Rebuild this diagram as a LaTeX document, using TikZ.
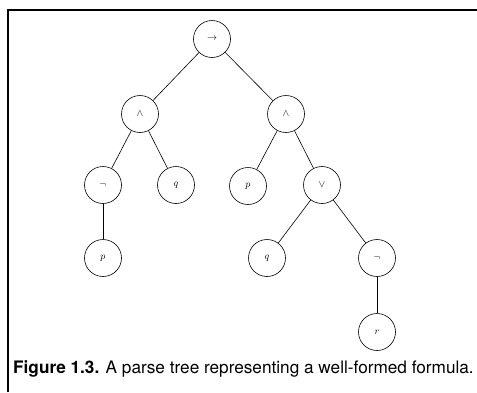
\documentclass[tikz,border=0pt]{standalone}
\usepackage{fontspec}
\setsansfont{TeX Gyre Heros}
\usepackage{tikz}
\usetikzlibrary{positioning}
\tikzstyle{vertex} = [circle, draw, semithick, minimum size=37pt, inner sep=0pt, font=\normalsize]
\tikzstyle{edge} = [semithick]

\begin{document}
\begin{tikzpicture}[x=1pt, y=-1pt]
                \useasboundingbox (0,0) rectangle (477,392);
                \draw[line width=1.2pt] (8,392) -- (8,10) -- (477,10);
                \node (imp) at (212,39) [vertex] {$\rightarrow$};
                \node (andl) at (140,114) [vertex] {$\wedge$};
                \node (andr) at (286,114) [vertex] {$\wedge$};
                \node (notl) at (103,185) [vertex] {$\neg$};
                \node (ql) at (176,185) [vertex] {$q$};
                \node (pr) at (248,186) [vertex] {$p$};
                \node (or) at (322,185) [vertex] {$\vee$};
                \node (pl) at (103,258) [vertex] {$p$};
                \node (qr) at (267,258) [vertex] {$q$};
                \node (notr) at (377,258) [vertex] {$\neg$};
                \node (r) at (377,332) [vertex] {$r$};
                \draw[edge] (imp) -- (andl);
                \draw[edge] (imp) -- (andr);
                \draw[edge] (andl) -- (notl);
                \draw[edge] (andl) -- (ql);
                \draw[edge] (andr) -- (pr);
                \draw[edge] (andr) -- (or);
                \draw[edge] (notl) -- (pl);
                \draw[edge] (or) -- (qr);
                \draw[edge] (or) -- (notr);
                \draw[edge] (notr) -- (r);
                \node (caption) at (13,373) [anchor=base west, inner sep=0pt, font=\sffamily\fontsize{17.2}{19}\selectfont] {\textbf{Figure 1.3.} A parse tree representing a well-formed formula.};
            \end{tikzpicture}
\end{document}
